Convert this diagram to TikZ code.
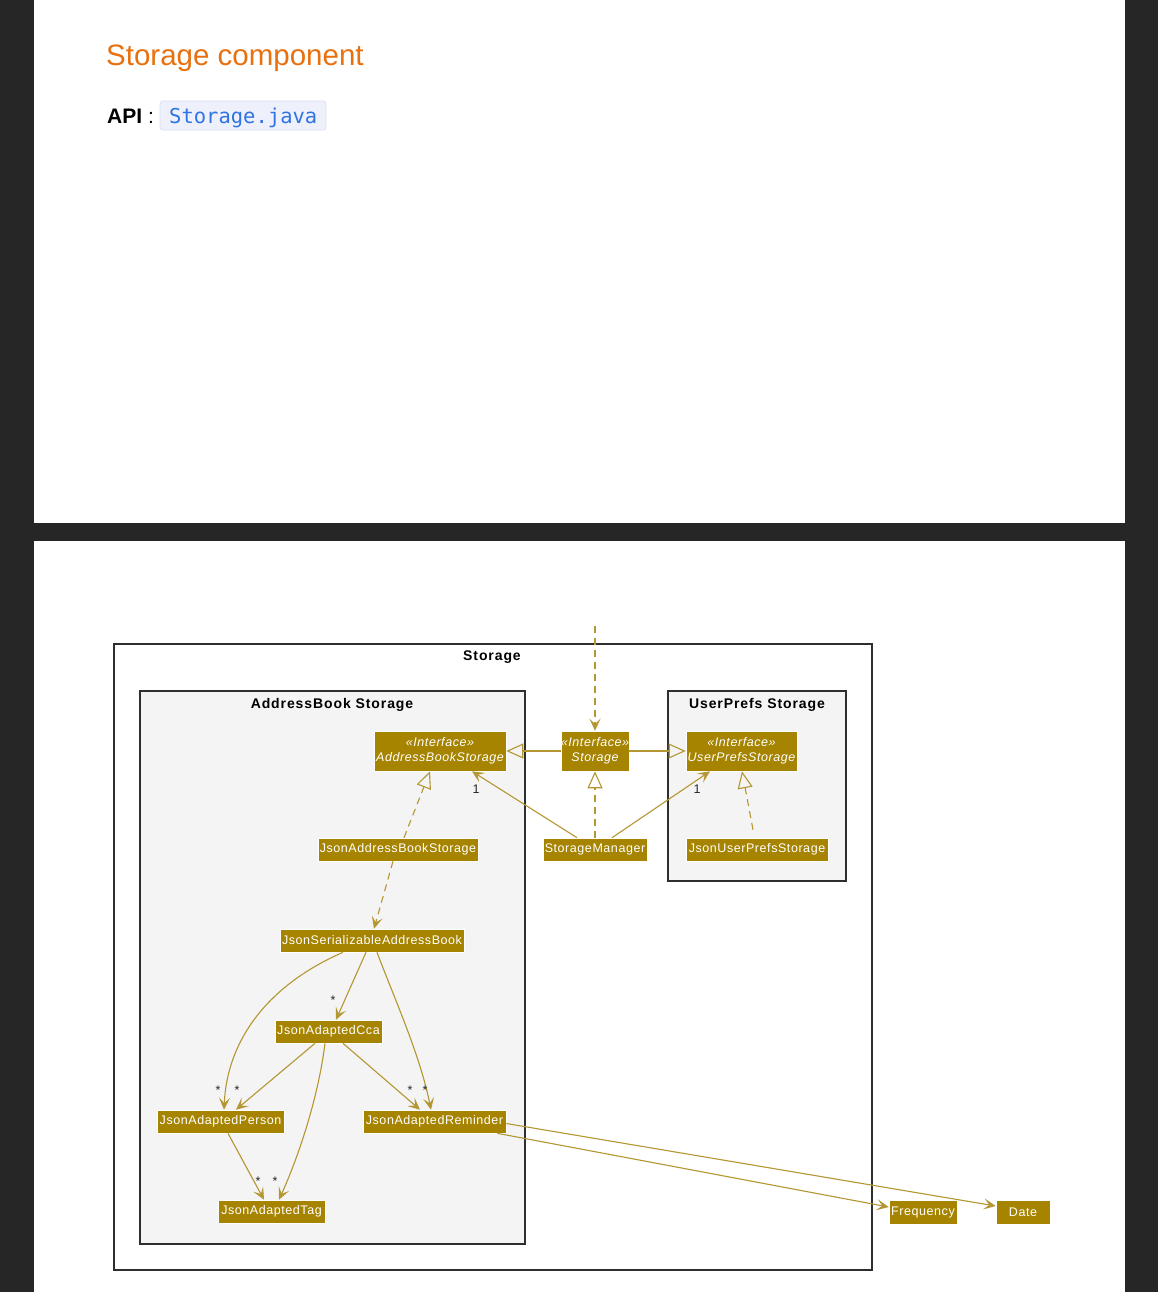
\documentclass[tikz,border=0pt]{standalone}
\usepackage{fontspec}
\setmainfont{Liberation Sans}
\newfontfamily\codefont{DejaVu Sans Mono}
\newfontfamily\umlfont[LetterSpace=4.5]{Liberation Sans}
\newfontfamily\pkgfont[LetterSpace=6.5]{Liberation Sans}
\usetikzlibrary{arrows.meta}

\definecolor{pagebg}{HTML}{262626}
\definecolor{headorange}{HTML}{E8700F}
\definecolor{codeblue}{HTML}{2F74E0}
\definecolor{codebox}{HTML}{EEF0FC}
\definecolor{codeborder}{HTML}{DCE0F2}
\definecolor{umlfill}{HTML}{A68400}
\definecolor{umlline}{HTML}{B49632}
\definecolor{pkgfill}{HTML}{F3F4F3}
\definecolor{pkgborder}{HTML}{2E2E2E}

\tikzset{
  cls/.style={fill=umlfill, draw=white, line width=0.6pt, text=white, inner sep=0pt,
    font=\umlfont\fontsize{12.5}{15}\selectfont, minimum height=23pt},
  iface/.style={cls, align=center, minimum height=40pt, font=\umlfont\fontsize{12.5}{15}\selectfont\itshape},
  pkg/.style={draw=pkgborder, line width=1.3pt},
  pkglabel/.style={font=\pkgfont\fontsize{14}{16}\selectfont\bfseries, text=black},
  link/.style={draw=umlline, line width=1.1pt},
  assoc/.style={link, -{Stealth[length=12pt,width=11pt,inset=5.5pt]}},
  dep/.style={assoc, dash pattern=on 7pt off 5pt},
  inherit/.style={link, -{Triangle[open,length=17pt,width=15pt]}},
  realize/.style={inherit, dash pattern=on 7pt off 5pt},
  mult/.style={font=\fontsize{12.5}{14}\selectfont, text=black!85, inner sep=0pt},
}

\begin{document}
\begin{tikzpicture}[x=1pt,y=-1pt]
\useasboundingbox (0,0) rectangle (1158,1292);

% background and the two pages
\fill[pagebg] (0,0) rectangle (1158,1292);
\fill[white] (34,0) rectangle (1125,523);
\fill[white] (34,541) rectangle (1125,1292);

% heading
\node[anchor=base west, inner sep=0pt, text=headorange, font=\fontsize{29.5}{34}\selectfont] (title) at (106,66) {Storage component};
\node[anchor=base west, inner sep=0pt, font=\fontsize{21}{24}\selectfont\bfseries] (api) at (107,124) {API};
\node[anchor=base west, inner sep=0pt, font=\fontsize{21}{24}\selectfont] (colon) at (148,124) {:};
\draw[fill=codebox, draw=codeborder, line width=0.8pt, rounded corners=3pt] (160,101) rectangle (326,130);
\node[anchor=base west, inner sep=0pt, text=codeblue, font=\codefont\fontsize{20.5}{24}\selectfont] (code) at (169,124) {Storage.java};

% packages
\draw[pkg, fill=white] (114,644) rectangle (872,1270);
\node[pkglabel] (lstorage) at (492,657) {Storage};
\draw[pkg, fill=pkgfill] (140,691) rectangle (525,1244);
\node[pkglabel] (labs) at (332,705) {AddressBook Storage};
\draw[pkg, fill=pkgfill] (668,691) rectangle (846,881);
\node[pkglabel] (lups) at (757,705) {UserPrefs Storage};

% classes
\node[iface, minimum width=132pt] (abs) at (440,751) {«Interface»\\AddressBookStorage};
\node[iface, minimum width=68pt] (storage) at (595,751) {«Interface»\\Storage};
\node[iface, minimum width=111pt] (ups) at (741.5,751) {«Interface»\\UserPrefsStorage};
\node[cls, minimum width=160pt] (jabs) at (398,849.5) {JsonAddressBookStorage};
\node[cls, minimum width=104pt] (sm) at (595,849.5) {StorageManager};
\node[cls, minimum width=142pt] (jups) at (757,849.5) {JsonUserPrefsStorage};
\node[cls, minimum width=184pt] (jsab) at (372,940.5) {JsonSerializableAddressBook};
\node[cls, minimum width=107pt] (cca) at (328.5,1031.5) {JsonAdaptedCca};
\node[cls, minimum width=127pt] (person) at (220.5,1121.5) {JsonAdaptedPerson};
\node[cls, minimum width=143pt] (reminder) at (434.5,1121.5) {JsonAdaptedReminder};
\node[cls, minimum width=107pt] (tag) at (271.5,1211.5) {JsonAdaptedTag};
\node[cls, minimum width=68pt, minimum height=24pt] (freq) at (923,1212) {Frequency};
\node[cls, minimum width=54pt, minimum height=24pt] (date) at (1023,1212) {Date};

% incoming dependency from outside the component
\coordinate (caller) at (595,626);
\draw[dep] (caller) -- (storage.north);

% generalisation and realisation
\draw[inherit] (storage.west) -- (abs.east);
\draw[inherit] (storage.east) -- (ups.west);
\draw[realize] (sm.north) -- (storage.south);
\draw[realize] ([xshift=6pt]jabs.north) -- ([xshift=-10pt]abs.south);
\draw[realize] ([xshift=-4pt,yshift=8pt]jups.north) -- ([xshift=0.5pt]ups.south);

% associations of StorageManager
\draw[assoc] ([xshift=-18pt]sm.north) -- ([xshift=32pt]abs.south);
\node[mult] (m1) at (476,789) {1};
\draw[assoc] ([xshift=17pt]sm.north) -- ([xshift=-31.5pt]ups.south);
\node[mult] (m2) at (697,789) {1};

% address book internals
\draw[dep] ([xshift=-5pt]jabs.south) -- ([xshift=2pt]jsab.north);
\draw[assoc] ([xshift=-6pt]jsab.south) -- ([xshift=7.5pt]cca.north);
\node[mult] (m3) at (333,1000) {*};
\draw[assoc] ([xshift=-29pt]jsab.south) .. controls (268,985) and (227,1040) .. ([xshift=3.5pt]person.north);
\node[mult] (m4) at (218,1090) {*};
\draw[assoc] ([xshift=5pt]jsab.south) .. controls (395,1000) and (420,1055) .. ([xshift=-3.5pt]reminder.north);
\node[mult] (m5) at (425,1090) {*};
\draw[assoc] ([xshift=-13.5pt]cca.south) -- ([xshift=15.5pt]person.north);
\node[mult] (m6) at (237,1090) {*};
\draw[assoc] ([xshift=14.5pt]cca.south) -- ([xshift=-14.5pt]reminder.north);
\node[mult] (m7) at (410,1090) {*};
\draw[assoc] ([xshift=-3.5pt]cca.south) .. controls (318,1100) and (297,1160) .. ([xshift=7.5pt]tag.north);
\node[mult] (m8) at (275,1181) {*};
\draw[assoc] ([xshift=7.5pt]person.south) -- ([xshift=-7.5pt]tag.north);
\node[mult] (m9) at (258,1181) {*};

% reminder fields
\draw[assoc] ([xshift=-9pt]reminder.south east) -- ([yshift=5pt]freq.west);
\draw[assoc] ([yshift=-2pt]reminder.east) -- ([yshift=6pt]date.west);
\end{tikzpicture}
\end{document}
